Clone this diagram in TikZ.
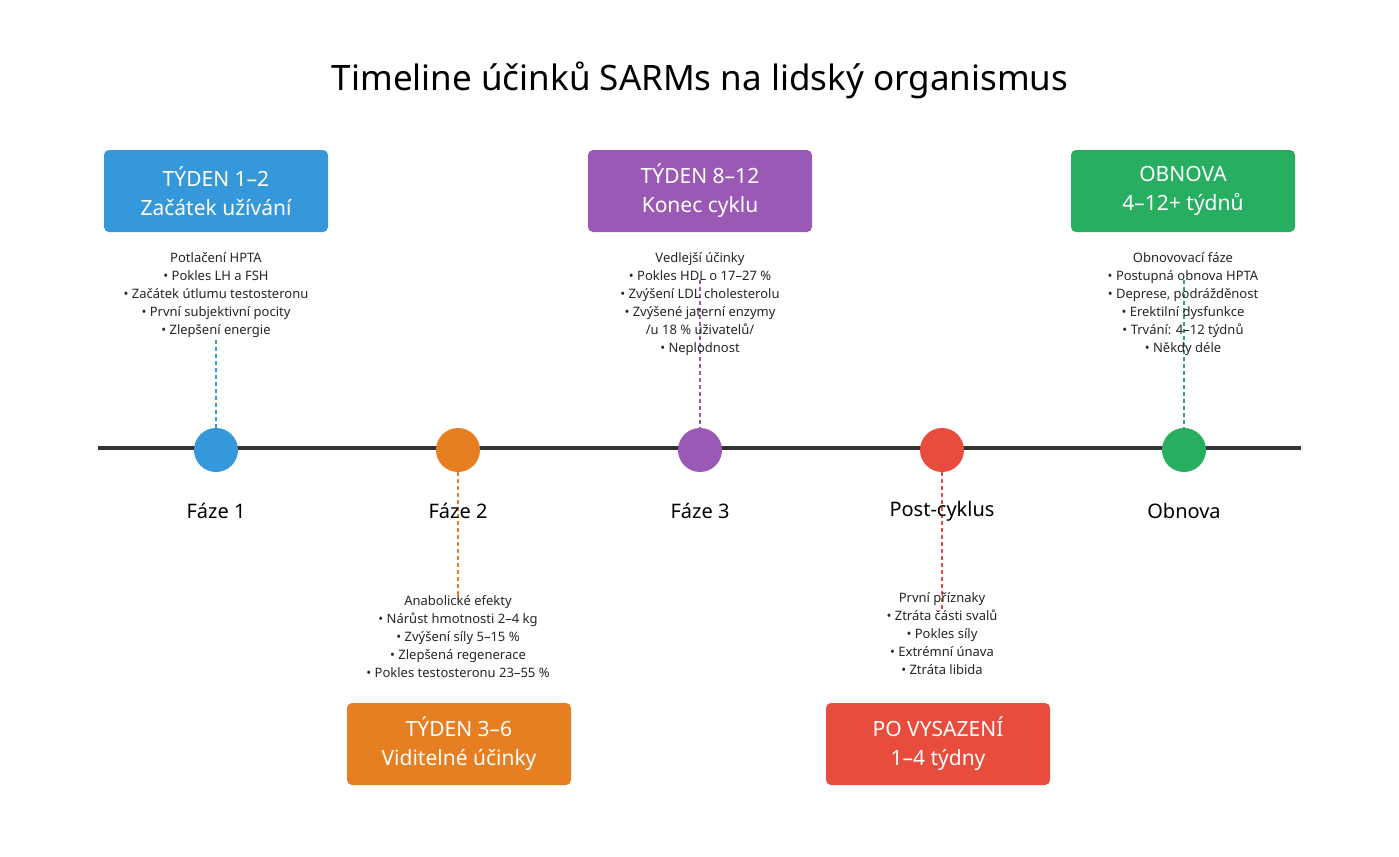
\documentclass[tikz,border=0pt]{standalone}
\usepackage{fontspec}
\setmainfont{Noto Sans}
\begin{document}
\begin{tikzpicture}[x=1pt,y=-1pt,
  dot/.style={circle,minimum size=44pt,inner sep=0pt},
  box/.style={rounded corners=5pt,minimum width=224pt,minimum height=82pt,text=white,align=center,font=\fontsize{21}{29}\selectfont},
  lab/.style={font=\fontsize{20}{24}\selectfont,text=black},
  info/.style={align=center,font=\fontsize{13}{18}\selectfont,text=black!85,inner sep=0pt},
  dl/.style={dashed,line width=1.2pt,dash pattern=on 4pt off 3pt}]
\definecolor{cb}{HTML}{3498DB}\definecolor{co}{HTML}{E67E22}\definecolor{cp}{HTML}{9B59B6}
\definecolor{cr}{HTML}{E74C3C}\definecolor{cg}{HTML}{27AE60}
\useasboundingbox[fill=white] (0,0) rectangle (1399,856);
\node[font=\fontsize{35}{40}\selectfont] (title) at (700,80) {Timeline účinků SARMs na lidský organismus};
\coordinate (L) at (98,448); \coordinate (R) at (1301,448);
\draw[line width=4.5pt,black!80] (L) -- (R);
% dashed connectors
\coordinate (b1) at (216,340); \coordinate (p1) at (700,280); \coordinate (g1) at (1184,280);
\coordinate (o1) at (458,600); \coordinate (r1) at (942,612);
\node[dot,fill=cb] (c1) at (216,450) {};
\node[dot,fill=co] (c2) at (458,450) {};
\node[dot,fill=cp] (c3) at (700,450) {};
\node[dot,fill=cr] (c4) at (942,450) {};
\node[dot,fill=cg] (c5) at (1184,450) {};
\draw[dl,cb] (b1) -- (c1.north);
\draw[dl,cp] (p1) -- (c3.north);
\draw[dl,cg] (g1) -- (c5.north);
\draw[dl,co] (c2.south) -- (o1);
\draw[dl,cr] (c4.south) -- (r1);
\node[lab] (f1) at (216,511) {Fáze 1};
\node[lab] (f2) at (458,511) {Fáze 2};
\node[lab] (f3) at (700,511) {Fáze 3};
\node[lab] (f4) at (942,511) {Post-cyklus};
\node[lab] (f5) at (1184,511) {Obnova};
\node[box,fill=cb] (B1) at (216,191) {TÝDEN 1–2\\Začátek užívání};
\node[box,fill=cp] (B3) at (700,191) {TÝDEN 8–12\\Konec cyklu};
\node[box,fill=cg] (B5) at (1183,191) {OBNOVA\\4–12+ týdnů};
\node[box,fill=co] (B2) at (459,744) {TÝDEN 3–6\\Viditelné účinky};
\node[box,fill=cr] (B4) at (938,744) {PO VYSAZENÍ\\1–4 týdny};
\node[info,anchor=north] (t1) at (216,252) {\textbf{Potlačení HPTA}\\• Pokles LH a FSH\\• Začátek útlumu testosteronu\\• První subjektivní pocity\\• Zlepšení energie};
\node[info,anchor=north] (t3) at (700,252) {\textbf{Vedlejší účinky}\\• Pokles HDL o 17–27 \%\\• Zvýšení LDL cholesterolu\\• Zvýšené jaterní enzymy\\/u 18 \% uživatelů/\\• Neplodnost};
\node[info,anchor=north] (t5) at (1183,252) {\textbf{Obnovovací fáze}\\• Postupná obnova HPTA\\• Deprese, podrážděnost\\• Erektilní dysfunkce\\• Trvání: 4–12 týdnů\\• Někdy déle};
\node[info,anchor=north] (t2) at (458,595) {\textbf{Anabolické efekty}\\• Nárůst hmotnosti 2–4 kg\\• Zvýšení síly 5–15 \%\\• Zlepšená regenerace\\• Pokles testosteronu 23–55 \%};
\node[info,anchor=north] (t4) at (942,592) {\textbf{První příznaky}\\• Ztráta části svalů\\• Pokles síly\\• Extrémní únava\\• Ztráta libida};
\end{tikzpicture}
\end{document}
